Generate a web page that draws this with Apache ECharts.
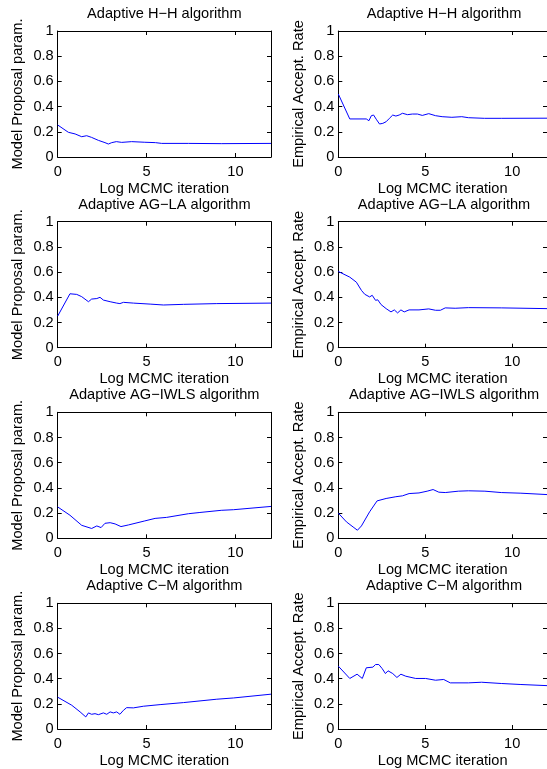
<!DOCTYPE html>
<html>
<head>
<meta charset="utf-8">
<script src="https://cdn.jsdelivr.net/npm/echarts@6/dist/echarts.min.js"></script>
<style>
html,body{margin:0;padding:0;background:#fff;}
#c{width:547px;height:769px;}
</style>
</head>
<body>
<div id="c"></div>
<script>
// ---- data (x = log MCMC iteration) ----
const titles = ['Adaptive H\u2212H algorithm', 'Adaptive AG\u2212LA algorithm', 'Adaptive AG\u2212IWLS algorithm', 'Adaptive C\u2212M algorithm'];
const yNameLeft = 'Model Proposal param.';
const yNameRight = 'Empirical Accept. Rate';
const xName = 'Log MCMC iteration';

const hhPropX = [0, 0.6, 0.98, 1.35, 1.63, 1.9, 2.29, 2.66, 2.85, 3.04, 3.3, 3.6, 4.16, 4.9, 5.5, 5.85, 7.35, 9.2, 12];
const hhPropY = [0.254, 0.196, 0.183, 0.161, 0.169, 0.156, 0.132, 0.114, 0.103, 0.114, 0.122, 0.116, 0.122, 0.117, 0.114, 0.108, 0.108, 0.106, 0.108];

const hhRateX = [0, 0.66, 1.61, 1.76, 1.9, 2.03, 2.18, 2.37, 2.56, 2.75, 2.94, 3.13, 3.31, 3.5, 3.69, 3.79, 3.98, 4.26, 4.55, 4.83, 5.2, 5.59, 5.97, 6.53, 7.1, 7.48, 8.4, 9.4, 12];
const hhRateY = [0.5, 0.302, 0.302, 0.288, 0.328, 0.333, 0.3, 0.262, 0.267, 0.28, 0.307, 0.333, 0.325, 0.333, 0.347, 0.355, 0.336, 0.341, 0.341, 0.33, 0.344, 0.328, 0.32, 0.315, 0.32, 0.312, 0.307, 0.307, 0.308];

const laPropX = [0, 0.69, 1.07, 1.35, 1.73, 1.91, 2.2, 2.38, 2.57, 2.95, 3.32, 3.5, 3.7, 4.26, 5.2, 5.95, 7.07, 8.95, 12];
const laPropY = [0.251, 0.428, 0.423, 0.405, 0.365, 0.386, 0.39, 0.4, 0.378, 0.365, 0.354, 0.35, 0.36, 0.354, 0.346, 0.339, 0.344, 0.35, 0.354];

const laRateX = [0, 0.66, 1.04, 1.33, 1.52, 1.8, 1.95, 2.14, 2.27, 2.46, 2.75, 3.03, 3.22, 3.41, 3.6, 3.79, 4.07, 4.64, 5.2, 5.59, 5.87, 6.15, 6.72, 7.48, 9.37, 12];
const laRateY = [0.605, 0.56, 0.52, 0.455, 0.424, 0.403, 0.416, 0.376, 0.38, 0.342, 0.31, 0.284, 0.3, 0.276, 0.3, 0.284, 0.3, 0.3, 0.308, 0.297, 0.297, 0.316, 0.313, 0.318, 0.316, 0.31];

const iwPropX = [0, 0.69, 1.35, 1.91, 2.2, 2.44, 2.66, 2.95, 3.23, 3.56, 3.98, 4.9, 5.48, 6.13, 7.35, 8.0, 9.2, 9.9, 12];
const iwPropY = [0.249, 0.183, 0.103, 0.078, 0.098, 0.085, 0.119, 0.124, 0.114, 0.093, 0.106, 0.138, 0.158, 0.166, 0.195, 0.205, 0.222, 0.227, 0.253];

const iwRateX = [0, 0.47, 0.85, 1.1, 1.33, 1.8, 2.23, 2.75, 3.31, 3.69, 4.07, 4.64, 5.11, 5.45, 5.78, 6.15, 6.9, 7.48, 8.43, 9.37, 10.5, 12];
const iwRateY = [0.2, 0.13, 0.09, 0.064, 0.098, 0.21, 0.297, 0.316, 0.33, 0.337, 0.355, 0.36, 0.374, 0.387, 0.366, 0.363, 0.374, 0.377, 0.374, 0.363, 0.358, 0.347];

const cmPropX = [0, 0.79, 1.26, 1.58, 1.73, 1.91, 2.1, 2.29, 2.57, 2.76, 2.95, 3.13, 3.32, 3.5, 3.7, 3.88, 4.26, 4.82, 5.76, 7.07, 8.95, 9.9, 12];
const cmPropY = [0.253, 0.189, 0.136, 0.096, 0.128, 0.117, 0.122, 0.114, 0.128, 0.117, 0.136, 0.128, 0.136, 0.117, 0.149, 0.17, 0.168, 0.181, 0.194, 0.21, 0.237, 0.247, 0.277];

const cmRateX = [0, 0.66, 1.08, 1.38, 1.61, 1.99, 2.14, 2.33, 2.52, 2.71, 2.86, 3.13, 3.37, 3.6, 3.88, 4.45, 5.02, 5.59, 6.06, 6.44, 7.48, 8.24, 9.37, 10.5, 12];
const cmRateY = [0.5, 0.402, 0.436, 0.402, 0.487, 0.492, 0.513, 0.513, 0.481, 0.441, 0.463, 0.441, 0.41, 0.436, 0.42, 0.402, 0.402, 0.388, 0.394, 0.367, 0.367, 0.372, 0.362, 0.354, 0.345];

const xTickMin = 0, xTickMax = 12, xTickStep = 5;
const yTickMin = 0, yTickMax = 1, yTickStep = 0.2;

const panels = [
  [hhPropX, hhPropY], [hhRateX, hhRateY],
  [laPropX, laPropY], [laRateX, laRateY],
  [iwPropX, iwPropY], [iwRateX, iwRateY],
  [cmPropX, cmPropY], [cmRateX, cmRateY]
];

// ---- layout ----
const FONT = 'Liberation Sans, Arial, Helvetica, sans-serif';
const FS = 14.6;
const boxTops = [31, 221.7, 412.3, 603.3];
const boxH = 126;
const colLeft = [57.7, 338.3];
const colW = [213.3, 211.5];

const grids = [], xAxes = [], yAxes = [], series = [], titleArr = [];
const lineStyle = {color: '#000', width: 1};
panels.forEach((p, i) => {
  const row = Math.floor(i / 2), col = i % 2;
  grids.push({left: colLeft[col], top: boxTops[row], width: colW[col], height: boxH, containLabel: false});
  xAxes.push({
    type: 'value', gridIndex: i, position: 'bottom', min: xTickMin, max: xTickMax, interval: xTickStep,
    name: xName, nameLocation: 'middle', nameGap: 24,
    nameTextStyle: {fontFamily: FONT, fontSize: FS, color: '#000'},
    axisLine: {show: true, onZero: false, lineStyle},
    axisTick: {show: true, inside: true, length: 4, lineStyle},
    axisLabel: {show: true, margin: 7, fontFamily: FONT, fontSize: FS, color: '#000', showMaxLabel: false},
    splitLine: {show: false}
  });
  xAxes.push({
    type: 'value', gridIndex: i, position: 'top', min: xTickMin, max: xTickMax, interval: xTickStep,
    axisLine: {show: true, onZero: false, lineStyle},
    axisTick: {show: true, inside: true, length: 4, lineStyle},
    axisLabel: {show: false}, splitLine: {show: false}
  });
  yAxes.push({
    type: 'value', gridIndex: i, position: 'left', min: yTickMin, max: yTickMax, interval: yTickStep,
    name: col === 0 ? yNameLeft : yNameRight, nameLocation: 'middle', nameGap: 32, nameRotate: 90,
    nameTextStyle: {fontFamily: FONT, fontSize: FS, color: '#000'},
    axisLine: {show: true, onZero: false, lineStyle},
    axisTick: {show: true, inside: true, length: 4, lineStyle},
    axisLabel: {show: true, margin: 4, fontFamily: FONT, fontSize: FS, color: '#000'},
    splitLine: {show: false}
  });
  yAxes.push({
    type: 'value', gridIndex: i, position: 'right', min: yTickMin, max: yTickMax, interval: yTickStep,
    axisLine: {show: true, onZero: false, lineStyle},
    axisTick: {show: true, inside: true, length: 4, lineStyle},
    axisLabel: {show: false}, splitLine: {show: false}
  });
  series.push({
    type: 'line', xAxisIndex: 2 * i, yAxisIndex: 2 * i,
    data: p[0].map((x, k) => [x, p[1][k]]),
    showSymbol: false, symbol: 'none', smooth: false,
    lineStyle: {color: '#0000ff', width: 1}, silent: true
  });
  titleArr.push({
    text: titles[row], left: colLeft[col] + colW[col] / 2, top: boxTops[row] - 24.5, textAlign: 'center', padding: 0,
    textStyle: {fontFamily: FONT, fontSize: FS, fontWeight: 'normal', color: '#000'}
  });
});

const chart = echarts.init(document.getElementById('c'), null, {renderer: 'canvas'});
chart.setOption({
  animation: false,
  backgroundColor: '#fff',
  title: titleArr,
  grid: grids,
  xAxis: xAxes,
  yAxis: yAxes,
  series: series
});
</script>
</body>
</html>
